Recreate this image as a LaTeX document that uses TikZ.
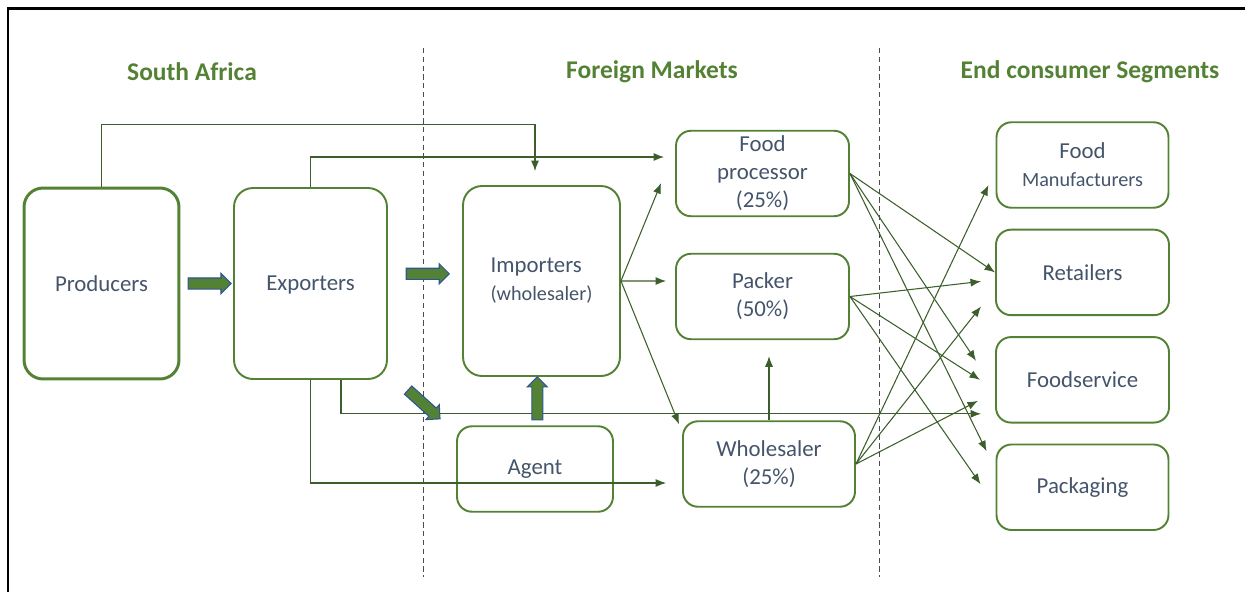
\documentclass[tikz,border=0pt]{standalone}
\usepackage{fontspec}
\setmainfont{Carlito}
\usetikzlibrary{arrows,arrows.meta,shapes,positioning,calc}
\definecolor{headgreen}{HTML}{548235}
\definecolor{boxgreen}{HTML}{548235}
\definecolor{boxtext}{HTML}{44546A}
\definecolor{linegreen}{HTML}{3B5E2B}
\definecolor{fatblue}{HTML}{2F5597}
\tikzset{
    heading/.style={
        text=headgreen,
        font=\fontsize{14.5}{17}\selectfont\bfseries,
    },
    actor/.style={
        rectangle,
        rounded corners=0.38cm,
        draw=boxgreen,
        line width=1.1pt,
        text=boxtext,
        align=center,
        font=\fontsize{13}{15.9}\selectfont,
        minimum width=3.1cm,
        minimum height=3.82cm,
    },
    market/.style={
        rectangle,
        rounded corners=0.3cm,
        draw=boxgreen,
        line width=1.1pt,
        text=boxtext,
        align=center,
        inner sep=1pt,
        font=\fontsize{13}{15.9}\selectfont,
        minimum width=3.46cm,
        minimum height=1.71cm,
    },
    flow/.style={
        draw=linegreen,
        -{Latex[length=6pt,width=4.6pt]},
        line width=0.6pt,
    },
    fat/.style={
        single arrow,
        draw=fatblue,
        fill=boxgreen,
        line width=0.6pt,
        inner sep=0pt,
        text width=0pt,
        text height=0.1cm,
        text depth=0.1cm,
        minimum height=0.86cm,
        single arrow head extend=0.09cm,
    },
    divider/.style={
        draw=black!70,
        dash pattern=on 3pt off 2pt,
        line width=0.5pt,
    },
    node distance=0.4cm,
}
\begin{document}
\begin{tikzpicture}[x=0.02cm,y=-0.02cm]
\useasboundingbox (0,0) rectangle (1245,592);
\draw[line width=1.7pt] (8,592) -- (8,8.5) -- (1245,8.5);
\draw[divider] (423,48) -- (423,577);
\draw[divider] (879,48) -- (879,577);

% headings
\node[heading] (hsa) at (192,72) {South Africa};
\node[heading] (hfm) at (652,72) {Foreign Markets};
\node[heading] (hecs) at (1090,72) {End consumer Segments};

% boxes
\node[actor, line width=1.7pt] (prod) at (101.5,283.5) {Producers};
\node[actor, minimum width=3.06cm, text depth=0pt] (exp) at (310.5,283.5) {Exporters};
\node[actor, minimum width=3.14cm, minimum height=3.8cm, align=left] (imp) at (541.5,281) {Importers\\{\fontsize{11.5}{14}\selectfont (wholesaler)}};
\node[market, minimum width=3.12cm] (agent) at (535,469) {Agent};
\node[market] (fp) at (762.5,173.5) {Food\\processor\\(25\%)};
\node[market] (pack) at (762.5,296.5) {Packer\\(50\%)};
\node[market, minimum width=3.44cm] (whole) at (769,464) {Wholesaler\\(25\%)};
\node[market, minimum width=3.44cm] (food) at (1082.5,165) {Food\\{\fontsize{11.5}{14}\selectfont Manufacturers}};
\node[market, below=of food] (retail) {Retailers};
\node[market, below=of retail] (service) {Foodservice};
\node[market, minimum width=3.44cm, below=of service] (packg) {Packaging};

% south africa to the markets
\draw[flow] (prod.north) -- ++(0,-62) -| ([xshift=-0.13cm,yshift=0.28cm]imp.north);
\draw[flow] (exp.north) |- ([xshift=-0.22cm,yshift=0.33cm]fp.west);
\draw[flow] ([xshift=0.61cm]exp.south) |- ([xshift=-0.28cm,yshift=-0.68cm]service.west);
\draw[flow] (exp.south) |- ([xshift=-0.32cm,yshift=-0.38cm]whole.west);

% importers
\draw[flow] (imp.east) -- ([xshift=-0.28cm,yshift=-0.19cm]fp.west);
\draw[flow] (imp.east) -- ([xshift=-0.18cm,yshift=0.31cm]pack.west);
\draw[flow] (imp.east) -- ([shift={(-0.06cm,-0.08cm)}]whole.north west);
\draw[flow, shorten >=0.32cm] (whole.north) -- (whole.north |- pack.south);

% to the end consumers
\draw[flow] (fp.east) -- (retail.west);
\draw[flow] (fp.east) -- ([xshift=-0.38cm,yshift=0.38cm]service.west);
\draw[flow] (fp.east) -- ([xshift=-0.18cm,yshift=0.72cm]packg.west);
\draw[flow] (pack.east) -- ([xshift=-0.28cm,yshift=-0.18cm]retail.west);
\draw[flow] (pack.east) -- ([xshift=-0.3cm]service.west);
\draw[flow] (pack.east) -- ([xshift=-0.3cm,yshift=0.06cm]packg.west);
\draw[flow] (whole.east) -- ([xshift=-0.14cm,yshift=-0.4cm]food.west);
\draw[flow] (whole.east) -- ([xshift=-0.28cm,yshift=-0.68cm]retail.west);
\draw[flow] (whole.east) -- ([xshift=-0.34cm,yshift=-0.42cm]service.west);

% block arrows
\path (prod) -- node[fat] {} (exp);
\path (exp) -- node[fat, yshift=0.17cm] {} (imp);
\path (exp.south east) -- node[fat, rotate=-42] {} (agent.north west);
\path (agent) -- node[fat, rotate=90] {} (imp);
\end{tikzpicture}
\end{document}
